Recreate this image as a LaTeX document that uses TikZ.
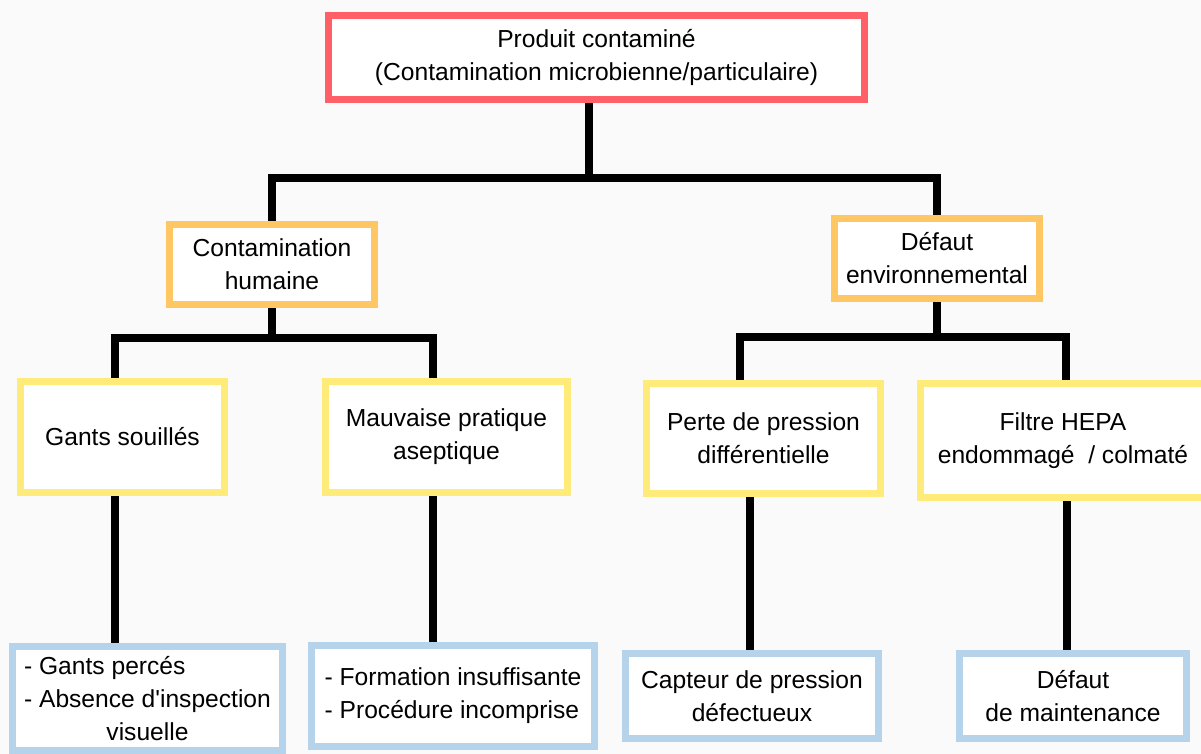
\documentclass[tikz,border=0pt]{standalone}
\usepackage{fontspec}
\setmainfont{Liberation Sans}
\usetikzlibrary{backgrounds}
\definecolor{cRouge}{HTML}{FF5F66}
\definecolor{cOrange}{HTML}{FFC764}
\definecolor{cJaune}{HTML}{FFEB7A}
\definecolor{cBleu}{HTML}{B5D3EA}
\definecolor{cFond}{HTML}{FAFAFA}
\begin{document}
\begin{tikzpicture}[x=0.025cm,y=-0.025cm,
	boite/.style={draw,line width=5pt,fill=white,align=center,inner sep=0pt,font=\fontsize{17.5}{23.5}\selectfont},
	lien/.style={line width=5.4pt}]
	\useasboundingbox (0,0) rectangle (1201,754);
	% niveau 0
	\node[boite,draw=cRouge,minimum width=134mm,minimum height=21mm] (produit) at (596.5,57.5) {Produit contaminé\\(Contamination microbienne/particulaire)};
	% niveau 1
	\node[boite,draw=cOrange,minimum width=51.25mm,minimum height=20mm] (humaine) at (272,264.5) {Contamination\\humaine};
	\node[boite,draw=cOrange,minimum width=51.25mm,minimum height=20mm] (environ) at (937,258.5) {Défaut\\environnemental};
	% niveau 2
	\node[boite,draw=cJaune,minimum width=51mm,minimum height=27.75mm] (gants) at (122.5,437) {Gants souillés};
	\node[boite,draw=cJaune,minimum width=60.5mm,minimum height=27.75mm] (aseptique) at (446.5,437) {Mauvaise pratique\\aseptique};
	\node[boite,draw=cJaune,minimum width=58.5mm,minimum height=27.5mm] (pression) at (763.5,438.5) {Perte de pression\\différentielle};
	\node[boite,draw=cJaune,minimum width=71.25mm,minimum height=28.5mm] (hepa) at (1063,440.5) {Filtre HEPA\\endommagé\ \ / colmaté};
	% niveau 3
	\node[boite,draw=cBleu,minimum width=67.5mm,minimum height=26mm] (perces) at (147.5,698.5) {\rlap{- Gants percés}\phantom{- Absence d\textquotesingle{}inspection}\\- Absence d\textquotesingle{}inspection\\visuelle};
	\node[boite,draw=cBleu,align=left,minimum width=70.75mm,minimum height=25.25mm] (formation) at (453,696) {- Formation insuffisante\\- Procédure incomprise};
	\node[boite,draw=cBleu,minimum width=63.25mm,minimum height=21.25mm] (capteur) at (752,696) {Capteur de pression\\défectueux};
	\node[boite,draw=cBleu,minimum width=56.75mm,minimum height=21.25mm] (maintenance) at (1073,696) {Défaut\\de maintenance};
	% liens
	\begin{scope}[on background layer]
		\fill[cFond] (0,0) rectangle (1201,754);
		\coordinate (j0) at (589,178);
		\coordinate (j1) at (274,338);
		\coordinate (j2) at (934,337);
		\draw[lien] (produit.south -| j0) -- (j0) -| (humaine.north);
		\draw[lien] (j0) -| (environ.north);
		\draw[lien] (humaine.south) -- (humaine.south |- j1) -| ([xshift=-1.9mm]gants.north);
		\draw[lien] (humaine.south |- j1) -| ([xshift=-3.4mm]aseptique.north);
		\draw[lien] (environ.south) -- (environ.south |- j2) -| ([xshift=-5.9mm]pression.north);
		\draw[lien] (environ.south |- j2) -| ([xshift=0.75mm]hepa.north);
		\draw[lien] ([xshift=-1.9mm]gants.south) -- ([xshift=-1.9mm]gants.south |- perces.north);
		\draw[lien] ([xshift=-3.4mm]aseptique.south) -- ([xshift=-3.4mm]aseptique.south |- formation.north);
		\draw[lien] ([xshift=-3.4mm]pression.south) -- ([xshift=-3.4mm]pression.south |- capteur.north);
		\draw[lien] ([xshift=1mm]hepa.south) -- ([xshift=1mm]hepa.south |- maintenance.north);
	\end{scope}
\end{tikzpicture}
\end{document}
